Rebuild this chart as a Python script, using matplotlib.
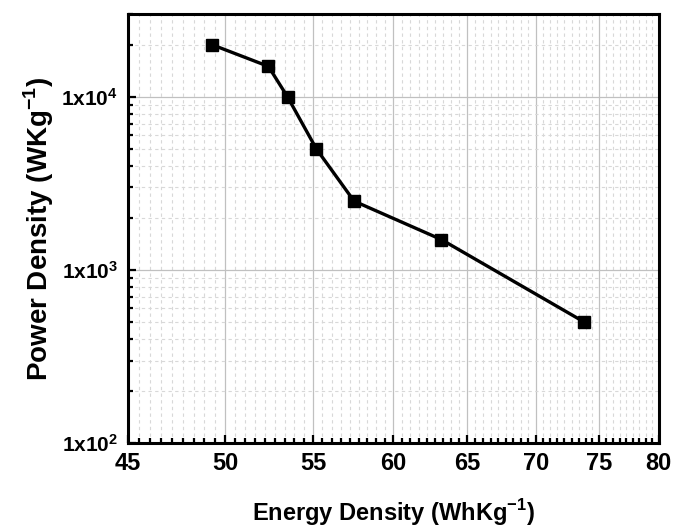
import numpy as np
import matplotlib
matplotlib.use("Agg")
import matplotlib.pyplot as plt
from matplotlib.ticker import FixedLocator, FuncFormatter, LogLocator, NullFormatter

plt.rcParams["font.family"] = ["Liberation Sans", "DejaVu Sans"]
plt.rcParams["mathtext.fontset"] = "custom"
plt.rcParams["mathtext.rm"] = "Liberation Sans:bold"
plt.rcParams["mathtext.bf"] = "Liberation Sans:bold"

# Ragone data
energy = [49.3, 52.4, 53.5, 55.2, 57.5, 63.2, 73.8]      # Wh/kg
power = [20000, 15000, 10000, 5000, 2500, 1500, 500]     # W/kg

x_major = [45, 50, 55, 60, 65, 70, 75, 80]
y_major = [1e2, 1e3, 1e4]

fig = plt.figure(figsize=(6.73, 5.27), dpi=100)
ax = fig.add_axes([0.190, 0.159, 0.789, 0.814])

ax.plot(energy, power, "-", color="black", lw=2.4, marker="s", ms=8,
        markerfacecolor="black", markeredgecolor="black", zorder=3)

ax.set_xscale("log")
ax.set_yscale("log")
ax.set_xlim(45, 80)
ax.set_ylim(100, 30000)

# x: log axis with plain number labels, 8 minor ticks per major interval
ax.xaxis.set_major_locator(FixedLocator(x_major))
ax.xaxis.set_major_formatter(FuncFormatter(lambda v, p: f"{v:g}"))
x_minor = [a + k * 5 / 9 for a in x_major[:-1] for k in range(1, 9)]
ax.xaxis.set_minor_locator(FixedLocator(x_minor))
ax.xaxis.set_minor_formatter(NullFormatter())

ax.yaxis.set_major_locator(FixedLocator(y_major))
ax.yaxis.set_major_formatter(
    FuncFormatter(lambda v, p: r"$\mathbf{1x10^{%d}}$" % round(np.log10(v))))
ax.yaxis.set_minor_locator(LogLocator(base=10, subs=np.arange(2, 10)))
ax.yaxis.set_minor_formatter(NullFormatter())

ax.grid(True, which="major", color="#c0c0c0", lw=0.9, ls="-", zorder=0)
ax.grid(True, which="minor", color="#d8d8d8", lw=0.8, ls=(0, (3, 3)), zorder=0)
ax.set_axisbelow(True)

for s in ax.spines.values():
    s.set_linewidth(2.2)
    s.set_color("black")

ax.tick_params(which="both", direction="in", top=False, right=False, width=1.6)
ax.tick_params(which="major", length=6, pad=7)
ax.tick_params(which="minor", length=3.5)
ax.tick_params(axis="y", labelsize=15)
ax.tick_params(axis="x", labelsize=17, pad=6)
for lab in ax.get_xticklabels():
    lab.set_fontweight("bold")

ax.set_xlabel(r"Energy Density (WhKg$^{\mathbf{-1}}$)", fontsize=17,
              fontweight="bold", labelpad=16)
ax.set_ylabel(r"Power Density (WKg$^{\mathbf{-1}}$)", fontsize=20,
              fontweight="bold", labelpad=4)

fig.savefig("out.png", dpi=100)
